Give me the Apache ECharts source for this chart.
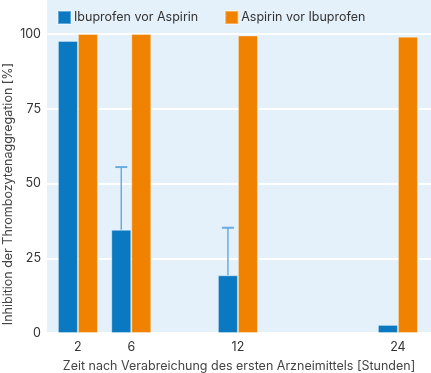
<!DOCTYPE html>
<html><head><meta charset="utf-8">
<script src="https://cdn.jsdelivr.net/npm/echarts@6/dist/echarts.min.js"></script>
<style>html,body{margin:0;padding:0;background:#fff}#c{width:431px;height:373px}</style>
</head><body><div id="c"></div>
<script>
const hours = ['2', '6', '12', '24'];
const columnSlots = [0, 1, 3, 6];
const ibuprofenFirst = [97.7, 34.5, 19.3, 2.7];
const ibuprofenFirstUpper = [null, 55.5, 35.2, null];
const aspirinFirst = [100, 100, 99.5, 99.1];
const yTicks = [0, 25, 50, 75, 100];
const seriesNames = ['Ibuprofen vor Aspirin', 'Aspirin vor Ibuprofen'];

const FONT = 'Inter';
const FS = 12.5;
const chart = echarts.init(document.getElementById('c'));
chart.setOption({
  animation: false,
  textStyle: { fontFamily: FONT },
  graphic: [{ type: 'rect', z: -10, shape: { x: 47, y: 0, width: 384, height: 333 }, style: { fill: '#e4f1fa' } }],
  legend: {
    left: 57, top: 10, padding: 0, itemWidth: 13, itemHeight: 13, itemGap: 26,
    textStyle: { fontFamily: FONT, fontSize: FS, color: '#333', padding: [0, 0, 0, -2] },
    data: seriesNames.map(n => ({ name: n, icon: 'rect' }))
  },
  grid: { left: 47, right: 0, top: 34, bottom: 40, outerBoundsMode: 'none', containLabel: false },
  xAxis: {
    type: 'value', min: -0.58, max: 6.62,
    axisLine: { show: false }, axisTick: { show: false }, splitLine: { show: false },
    axisLabel: {
      customValues: columnSlots, fontSize: FS, color: '#333', margin: 8, fontFamily: FONT,
      formatter: v => hours[columnSlots.indexOf(v)] ?? ''
    },
    name: 'Zeit nach Verabreichung des ersten Arzneimittels [Stunden]',
    nameLocation: 'middle', nameGap: 27, nameMoveOverlap: false,
    nameTextStyle: { fontSize: FS, color: '#444', fontFamily: FONT }
  },
  yAxis: {
    type: 'value', min: 0, max: 100, interval: 25,
    axisLine: { show: false }, axisTick: { show: false },
    splitLine: { lineStyle: { color: '#ffffff', width: 2 } },
    axisLabel: { fontSize: FS, color: '#333', margin: 6, fontFamily: FONT,
      customValues: yTicks },
    name: 'Inhibition der Thrombozytenaggregation [%]',
    nameLocation: 'middle', nameGap: 32, nameMoveOverlap: false,
    nameTextStyle: { fontSize: FS, color: '#444', fontFamily: FONT, padding: [0, 21, 0, 0] }
  },
  series: [
    {
      name: seriesNames[0], type: 'bar', barWidth: 20, barGap: '0%',
      itemStyle: { color: '#0a79c1', borderColor: 'rgba(255,255,255,0.35)', borderWidth: 1 },
      data: hours.map((h, i) => [columnSlots[i], ibuprofenFirst[i]])
    },
    {
      name: seriesNames[1], type: 'bar', barWidth: 20, barGap: '0%',
      itemStyle: { color: '#f08200', borderColor: 'rgba(255,255,255,0.35)', borderWidth: 1 },
      data: hours.map((h, i) => [columnSlots[i], aspirinFirst[i]])
    },
    {
      type: 'custom', name: 'err', z: 1,
      data: hours.map((h, i) => [columnSlots[i], ibuprofenFirst[i], ibuprofenFirstUpper[i]]).filter(d => d[2] != null),
      renderItem: (params, api) => {
        const base = api.coord([api.value(0), api.value(1)]);
        const top = api.coord([api.value(0), api.value(2)]);
        const x = base[0] - 10;
        const style = { stroke: '#69ade0', lineWidth: 1.5 };
        return { type: 'group', children: [
          { type: 'line', shape: { x1: x, y1: base[1], x2: x, y2: top[1] }, style },
          { type: 'line', shape: { x1: x - 6, y1: top[1], x2: x + 6, y2: top[1] }, style: { stroke: '#69ade0', lineWidth: 2 } }
        ]};
      }
    }
  ]
});
</script></body></html>
